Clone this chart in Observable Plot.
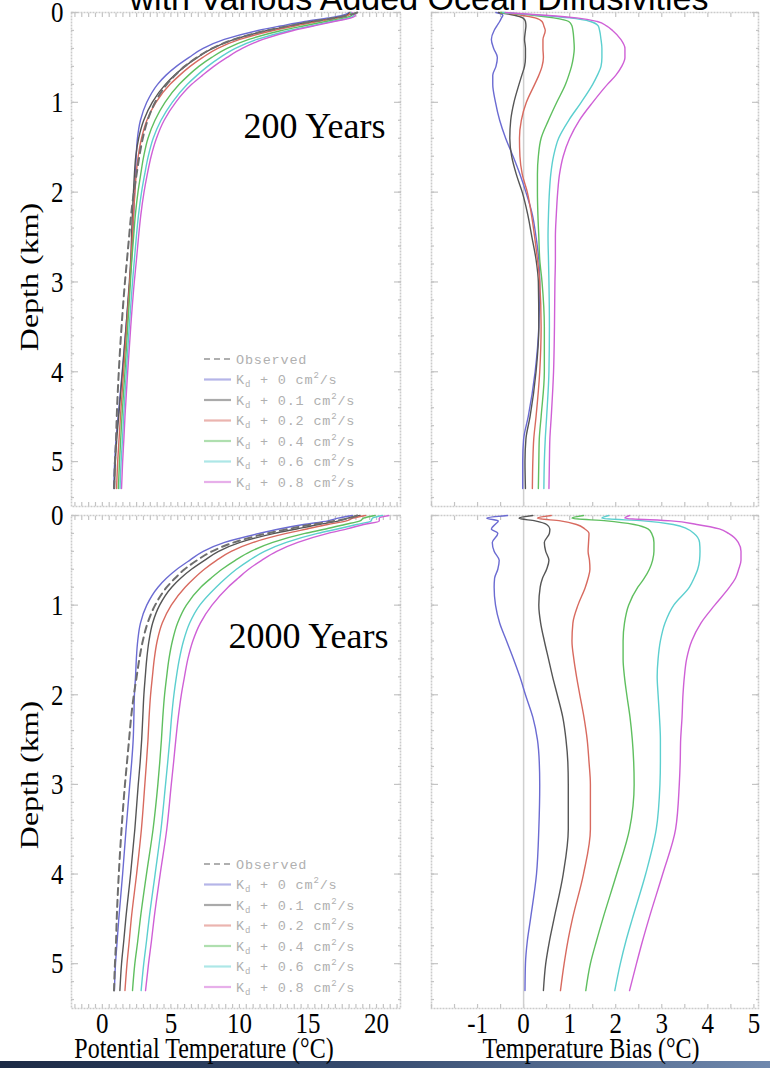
<!DOCTYPE html>
<html>
<head>
<meta charset="utf-8">
<script src="https://cdn.jsdelivr.net/npm/d3@7"></script>
<script src="https://cdn.jsdelivr.net/npm/@observablehq/plot@0.6"></script>
<style>
  html, body { margin: 0; padding: 0; background: #fff; }
  #root { position: relative; width: 770px; height: 1068px; overflow: hidden; background: #fff; }
  #bar { position: absolute; left: 0; top: 1061px; width: 770px; height: 7px;
         background: linear-gradient(to right, #1c2a45, #34496c 45%, #6f88ad); }
</style>
</head>
<body>
<div id="root"><div id="bar"></div></div>
<script>
// ---------------- DATA ----------------
const titleText = "with Various Added Ocean Diffusivities";
const depthKm = [0, 0.03, 0.06, 0.1, 0.15, 0.2, 0.3, 0.4, 0.5, 0.6, 0.7, 0.8, 1.0, 1.2, 1.4, 1.6, 1.8, 2.0, 2.25, 2.5, 2.75, 3.0, 3.5, 4.0, 4.5, 4.75, 5.0, 5.3];
const observedTemp = [18.6, 18.0, 17.0, 15.3, 13.6, 12.0, 9.6, 8.0, 6.9, 6.0, 5.3, 4.7, 3.85, 3.3, 2.95, 2.7, 2.5, 2.3, 2.1, 1.95, 1.8, 1.65, 1.4, 1.2, 1.05, 1.0, 0.92, 0.85];
const addedKd = [0, 0.1, 0.2, 0.4, 0.6, 0.8];
const seriesColors = ["#6b6bd2", "#555555", "#d86a5f", "#5fbf5f", "#5ccfcf", "#cf60d6"];
const observedColor = "#6e6e6e";
const panelYears = [200, 2000];

// temperature bias (model - observed), 200 years
const bias200_k0  = [-0.6, -0.45, -0.48, -0.52, -0.58, -0.64, -0.7, -0.65, -0.57, -0.6, -0.67, -0.67, -0.61, -0.52, -0.39, -0.23, -0.08, 0.05, 0.19, 0.27, 0.33, 0.35, 0.33, 0.25, 0.1, 0.0, -0.02, -0.02];
const bias200_k01 = [-0.55, -0.2, -0.02, 0.04, 0.05, 0.04, 0.02, 0.04, 0.04, 0.02, -0.04, -0.1, -0.21, -0.28, -0.3, -0.26, -0.16, -0.03, 0.09, 0.18, 0.27, 0.32, 0.33, 0.27, 0.14, 0.05, 0.03, 0.04];
const bias200_k02 = [-0.5, -0.05, 0.25, 0.4, 0.44, 0.47, 0.42, 0.42, 0.43, 0.4, 0.33, 0.24, 0.06, -0.05, -0.09, -0.08, -0.03, 0.08, 0.17, 0.24, 0.3, 0.35, 0.38, 0.35, 0.27, 0.22, 0.2, 0.19];
const bias200_k04 = [-0.5, 0.2, 0.65, 0.98, 1.05, 1.07, 1.09, 1.1, 1.08, 1.04, 0.98, 0.91, 0.72, 0.54, 0.38, 0.32, 0.3, 0.3, 0.31, 0.33, 0.35, 0.4, 0.45, 0.45, 0.38, 0.34, 0.33, 0.32];
const bias200_k06 = [-0.45, 0.35, 1.0, 1.45, 1.62, 1.65, 1.68, 1.7, 1.7, 1.68, 1.6, 1.5, 1.25, 0.98, 0.76, 0.65, 0.59, 0.56, 0.54, 0.53, 0.54, 0.55, 0.56, 0.55, 0.5, 0.47, 0.45, 0.44];
const bias200_k08 = [-0.4, 0.45, 1.15, 1.6, 1.8, 1.93, 2.11, 2.2, 2.2, 2.13, 2.0, 1.82, 1.5, 1.21, 1.0, 0.86, 0.78, 0.74, 0.71, 0.69, 0.69, 0.68, 0.67, 0.65, 0.6, 0.57, 0.56, 0.55];

// temperature bias, 2000 years
const bias2000_k0  = [-0.35, -0.8, -0.55, -0.62, -0.7, -0.56, -0.68, -0.64, -0.53, -0.56, -0.63, -0.64, -0.61, -0.52, -0.37, -0.22, -0.08, 0.04, 0.2, 0.3, 0.34, 0.35, 0.33, 0.28, 0.15, 0.08, 0.04, 0.03];
const bias2000_k01 = [0.2, -0.1, 0.25, 0.5, 0.57, 0.56, 0.45, 0.48, 0.55, 0.5, 0.41, 0.36, 0.33, 0.37, 0.45, 0.54, 0.63, 0.73, 0.85, 0.92, 0.96, 0.97, 0.97, 0.86, 0.66, 0.56, 0.48, 0.43];
const bias2000_k02 = [0.6, 0.3, 0.8, 1.15, 1.33, 1.42, 1.41, 1.4, 1.43, 1.44, 1.4, 1.34, 1.18, 1.07, 1.05, 1.09, 1.15, 1.22, 1.31, 1.38, 1.42, 1.45, 1.45, 1.3, 1.06, 0.96, 0.88, 0.8];
const bias2000_k04 = [1.3, 1.05, 1.8, 2.4, 2.7, 2.78, 2.83, 2.83, 2.8, 2.73, 2.62, 2.48, 2.28, 2.19, 2.16, 2.16, 2.19, 2.24, 2.31, 2.36, 2.39, 2.4, 2.3, 2.02, 1.72, 1.58, 1.45, 1.35];
const bias2000_k06 = [1.85, 1.7, 2.6, 3.25, 3.55, 3.7, 3.82, 3.83, 3.82, 3.78, 3.7, 3.6, 3.26, 3.07, 2.97, 2.92, 2.9, 2.92, 2.95, 2.97, 2.97, 2.96, 2.88, 2.65, 2.36, 2.22, 2.1, 1.98];
const bias2000_k08 = [2.3, 2.2, 3.2, 3.76, 4.25, 4.45, 4.66, 4.72, 4.72, 4.67, 4.6, 4.47, 4.15, 3.85, 3.65, 3.54, 3.49, 3.46, 3.44, 3.41, 3.4, 3.38, 3.3, 3.02, 2.72, 2.58, 2.45, 2.3];

// tick labels
const depthTicks = [0, 1, 2, 3, 4, 5];
const tempTicks = [0, 5, 10, 15, 20];
const biasTicks = [-1, 0, 1, 2, 3, 4, 5];
const xLabels = ["Potential Temperature (°C)", "Temperature Bias (°C)"];
const yLabel = "Depth (km)";

// ---------------- BUILD ----------------
const bias200 = [bias200_k0, bias200_k01, bias200_k02, bias200_k04, bias200_k06, bias200_k08];
const bias2000 = [bias2000_k0, bias2000_k01, bias2000_k02, bias2000_k04, bias2000_k06, bias2000_k08];

function buildRows(biasSet) {
  const out = [];
  addedKd.forEach((k, i) => depthKm.forEach((d, j) => out.push({
    kd: k, depth: d, bias: biasSet[i][j], temp: observedTemp[j] + biasSet[i][j]
  })));
  return out;
}
const obsRows = depthKm.map((d, j) => ({depth: d, temp: observedTemp[j]}));

const root = document.getElementById("root");
const frameColor = "#cbcbcb";
const tickColor = "#c4c4c4";
const serif = "Liberation Serif, Times New Roman, serif";
const TICK_STRETCH = 1.22;

function stretchTicks(svg, k) {
  svg.querySelectorAll('g[aria-label$="tick label"] text').forEach(t => {
    const tr = t.getAttribute("transform");
    if (tr) t.setAttribute("transform", tr + ` scale(1,${k})`);
    else {
      const x = +t.getAttribute("x") || 0, y = +t.getAttribute("y") || 0;
      t.removeAttribute("x"); t.removeAttribute("y");
      t.setAttribute("transform", `translate(${x},${y}) scale(1,${k})`);
    }
  });
}

function panel({left, biasSet, years, bottomRow, svgLeft, svgTop, labelDx, labelDy}) {
  const width = left ? 420 : 350;
  const height = bottomRow ? 540 : 510;
  const data = buildRows(biasSet);
  const xDomain = left ? [-2.25, 21.75] : [-2, 5.1];
  const minorX = left ? d3.range(-2, 21.6, 0.5) : d3.range(-2, 5.01, 0.5);
  const minorY = d3.range(0, 5.5, 0.2);
  const tickOpts = {stroke: tickColor, fill: "none", strokeWidth: 1.2};
  const marks = [
    Plot.frame({stroke: frameColor, strokeWidth: 1.6, strokeDasharray: "2,1"}),
    Plot.axisX(minorX, {anchor: "top", tickSize: -4, ...tickOpts}),
    Plot.axisX(minorX, {anchor: "bottom", tickSize: -4, ...tickOpts}),
    Plot.axisY(minorY, {anchor: "left", tickSize: -3, ...tickOpts}),
    Plot.axisY(minorY, {anchor: "right", tickSize: -3, ...tickOpts}),
    Plot.axisY(depthTicks, {anchor: "left", tickSize: -7, ...tickOpts}),
    Plot.axisY(depthTicks, {anchor: "right", tickSize: -7, ...tickOpts})
  ];
  if (left) {
    marks.push(Plot.axisY(depthTicks, {anchor: "left", tickSize: 0, tickPadding: 8, fontSize: 25, fill: "black", label: null, tickFormat: d => `${d}`}));
  } else {
    marks.push(Plot.ruleX([0], {stroke: "#cfcfcf", strokeWidth: 1.5}));
  }
  if (bottomRow) {
    marks.push(Plot.axisX(left ? tempTicks : biasTicks, {anchor: "bottom", tickSize: 0, tickPadding: 3, fontSize: 25, fill: "black", label: null, tickFormat: d => `${d}`}));
  }
  marks.push(Plot.line(data, {x: left ? "temp" : "bias", y: "depth", z: "kd", stroke: "kd", strokeWidth: 1.4, curve: "monotone-y"}));
  if (left) {
    marks.push(Plot.line(obsRows, {x: "temp", y: "depth", stroke: observedColor, strokeWidth: 2, strokeDasharray: "7,5", curve: "monotone-y"}));
    marks.push(Plot.text([`${years} Years`], {frameAnchor: "top-right", textAnchor: "end", lineAnchor: "top", dx: labelDx, dy: labelDy, fontSize: 36, fill: "black"}));
  }
  const svg = Plot.plot({
    width, height,
    marginLeft: left ? 71 : 11,
    marginRight: left ? 20 : 12,
    marginTop: bottomRow ? 5 : 12,
    marginBottom: bottomRow ? 42 : 4,
    x: {domain: xDomain},
    y: {domain: [0, 5.5], reverse: true},
    color: {type: "ordinal", domain: addedKd, range: seriesColors},
    style: {fontFamily: serif, fontSize: "25px", background: "none", overflow: "visible", color: "black"},
    marks
  });
  stretchTicks(svg, TICK_STRETCH);
  svg.style.position = "absolute";
  svg.style.left = svgLeft + "px";
  svg.style.top = svgTop + "px";
  svg.style.maxWidth = "none";
  root.appendChild(svg);
}

panel({left: true,  biasSet: bias200,  years: panelYears[0], bottomRow: false, svgLeft: 0,   svgTop: 0,   labelDx: -15, labelDy: 100});
panel({left: false, biasSet: bias200,  years: panelYears[0], bottomRow: false, svgLeft: 420, svgTop: 0});
panel({left: true,  biasSet: bias2000, years: panelYears[1], bottomRow: true,  svgLeft: 0,   svgTop: 510, labelDx: -12, labelDy: 107});
panel({left: false, biasSet: bias2000, years: panelYears[1], bottomRow: true,  svgLeft: 420, svgTop: 510});

// ---------------- OVERLAY TEXT / LEGENDS ----------------
const ov = d3.create("svg").attr("width", 770).attr("height", 1068)
  .style("position", "absolute").style("left", "0px").style("top", "0px").style("overflow", "hidden");

ov.append("text").attr("x", 419).attr("y", 10).attr("text-anchor", "middle")
  .attr("font-family", "Liberation Sans, Arial, sans-serif").attr("font-size", 34).attr("fill", "black")
  .text(titleText);

[277, 775].forEach(cy => {
  ov.append("text").attr("transform", `translate(38,${cy}) rotate(-90) scale(1.28,1)`)
    .attr("text-anchor", "middle").attr("font-family", serif).attr("font-size", 25).attr("fill", "black")
    .text(yLabel);
});

[[204, xLabels[0]], [591, xLabels[1]]].forEach(([cx, s]) => {
  ov.append("text").attr("transform", `translate(${cx},1058) scale(1,1.22)`)
    .attr("text-anchor", "middle").attr("font-family", serif).attr("font-size", 24).attr("fill", "black")
    .text(s);
});

function legend(y0) {
  const g = ov.append("g").attr("font-family", "Liberation Mono, DejaVu Sans Mono, monospace")
    .attr("font-size", 13.5).attr("fill", "#b0b0b0").attr("letter-spacing", 0.8);
  const step = 20.5;
  g.append("line").attr("x1", 204).attr("x2", 231).attr("y1", y0).attr("y2", y0)
    .attr("stroke", observedColor).attr("stroke-opacity", 0.55).attr("stroke-width", 2.2).attr("stroke-dasharray", "6,4");
  g.append("text").attr("x", 236).attr("y", y0 + 4.5).text("Observed");
  addedKd.forEach((k, i) => {
    const y = y0 + step * (i + 1);
    g.append("line").attr("x1", 204).attr("x2", 231).attr("y1", y).attr("y2", y)
      .attr("stroke", seriesColors[i]).attr("stroke-opacity", 0.5).attr("stroke-width", 2.2);
    const t = g.append("text").attr("x", 236).attr("y", y + 4.5);
    t.append("tspan").text("K");
    t.append("tspan").attr("font-size", 9).attr("dy", 3).text("d");
    t.append("tspan").attr("dy", -3).text(` + ${k} cm`);
    t.append("tspan").attr("font-size", 9).attr("dy", -6).text("2");
    t.append("tspan").attr("dy", 6).text("/s");
  });
}
legend(359);
legend(864);

root.appendChild(ov.node());
</script>
</body>
</html>
